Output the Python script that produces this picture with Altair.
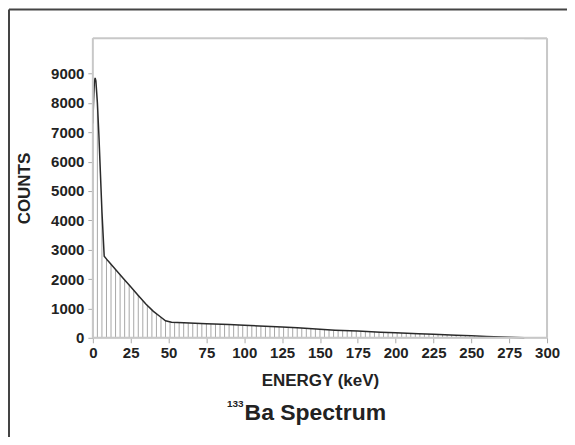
import altair as alt
import pandas as pd

# Spectrum
energy_kev = [0, 0.5, 1, 1.5, 2, 3, 4, 5, 6, 7.5, 10, 15, 20, 25, 30, 35, 40, 45, 48, 52,
              60, 75, 90, 100, 110, 125, 135, 150, 160, 175, 190, 200, 215, 225, 240, 250,
              260, 275, 285]
counts = [7300, 8100, 8700, 8850, 8750, 8000, 6900, 5600, 4300, 2780, 2620, 2330, 2030,
          1740, 1440, 1150, 900, 700, 580, 530, 510, 480, 450, 430, 400, 370, 340, 290,
          260, 230, 190, 170, 140, 120, 90, 70, 45, 15, 0]

x_ticks = [0, 25, 50, 75, 100, 125, 150, 175, 200, 225, 250, 275, 300]
y_ticks = [0, 1000, 2000, 3000, 4000, 5000, 6000, 7000, 8000, 9000]
hatch_step = 3
hatch_positions = list(range(0, 284, hatch_step))

title_sup = "133"
title_main = "Ba Spectrum"
x_title = "ENERGY (keV)"
y_title = "COUNTS"

df = pd.DataFrame({"energy": energy_kev, "counts": counts})
hatch_df = pd.DataFrame({"energy": hatch_positions})

FONT = "Liberation Sans"
Y_MAX = 10200

xscale = alt.Scale(domain=[0, 300], nice=False, zero=False)
yscale = alt.Scale(domain=[0, Y_MAX], nice=False)

x_axis = alt.Axis(values=x_ticks, title=x_title, grid=False, domain=False, format="d",
                  tickColor="#aaaaaa", tickSize=5, tickWidth=1,
                  labelFont=FONT, labelFontSize=15, labelFontWeight="bold",
                  labelColor="#222222", labelPadding=3, labelFlush=False,
                  titleFont=FONT, titleFontSize=17, titleFontWeight="bold",
                  titleColor="#222222", titlePadding=12)
y_axis = alt.Axis(values=y_ticks, title=y_title, grid=False, domain=False, format="d",
                  tickColor="#aaaaaa", tickSize=5, tickWidth=1,
                  labelFont=FONT, labelFontSize=15, labelFontWeight="bold",
                  labelColor="#222222", labelPadding=4,
                  titleFont=FONT, titleFontSize=17, titleFontWeight="bold",
                  titleColor="#222222", titlePadding=17)

X = alt.X("energy:Q", scale=xscale, axis=x_axis, title=x_title)
Y = alt.Y("counts:Q", scale=yscale, axis=y_axis, title=y_title)

# hatch: vertical rules over the full height, then covered above the curve
hatch = alt.Chart(hatch_df).mark_rule(color="#a8a8a8", strokeWidth=1).encode(
    x=X, y=alt.value(0), y2=alt.value(300))

cover = alt.Chart(df).mark_area(color="white", opacity=1, interpolate="linear").encode(
    x=X, y=Y, y2=alt.datum(Y_MAX))

line = alt.Chart(df).mark_line(color="#2a2a2a", strokeWidth=1.5).encode(x=X, y=Y)

# plot frame
frame_src = alt.Data(values=[{}])
frame = alt.layer(
    alt.Chart(frame_src).mark_rule(color="#c8c8c8", strokeWidth=2).encode(
        x=alt.value(0), x2=alt.value(455), y=alt.value(0)),
    alt.Chart(frame_src).mark_rule(color="#c8c8c8", strokeWidth=2).encode(
        x=alt.value(455), y=alt.value(0), y2=alt.value(300)),
    alt.Chart(frame_src).mark_rule(color="#c8c8c8", strokeWidth=2).encode(
        x=alt.value(0), y=alt.value(0), y2=alt.value(300)),
    alt.Chart(frame_src).mark_rule(color="#c8c8c8", strokeWidth=2).encode(
        x=alt.value(0), x2=alt.value(455), y=alt.value(300)),
)

# outer page frame (left and top)
outer = alt.layer(
    alt.Chart(frame_src).mark_rule(color="#444444", strokeWidth=2).encode(
        x=alt.value(-84), y=alt.value(-29), y2=alt.value(410)),
    alt.Chart(frame_src).mark_rule(color="#444444", strokeWidth=2).encode(
        x=alt.value(-84), x2=alt.value(490), y=alt.value(-29)),
)

title_df = alt.Data(values=[{"sup": title_sup, "main": title_main}])
t_main = alt.Chart(title_df).mark_text(
    font=FONT, fontSize=23, fontWeight="bold", color="#222222",
    align="left", baseline="alphabetic").encode(
    text="main:N", x=alt.value(152), y=alt.value(382))
t_sup = alt.Chart(title_df).mark_text(
    font=FONT, fontSize=10, fontWeight="bold", color="#222222",
    align="right", baseline="alphabetic").encode(
    text="sup:N", x=alt.value(151), y=alt.value(369))

chart = alt.layer(hatch, cover, line, frame, outer, t_main, t_sup).properties(
    width=455, height=300,
    padding={"left": 85, "top": 30, "right": 20, "bottom": 99},
    autosize=alt.AutoSizeParams(type="none"),
).configure_view(stroke=None).configure(background="white")

chart.save("out.html", embed_options={"renderer": "svg", "actions": False})
